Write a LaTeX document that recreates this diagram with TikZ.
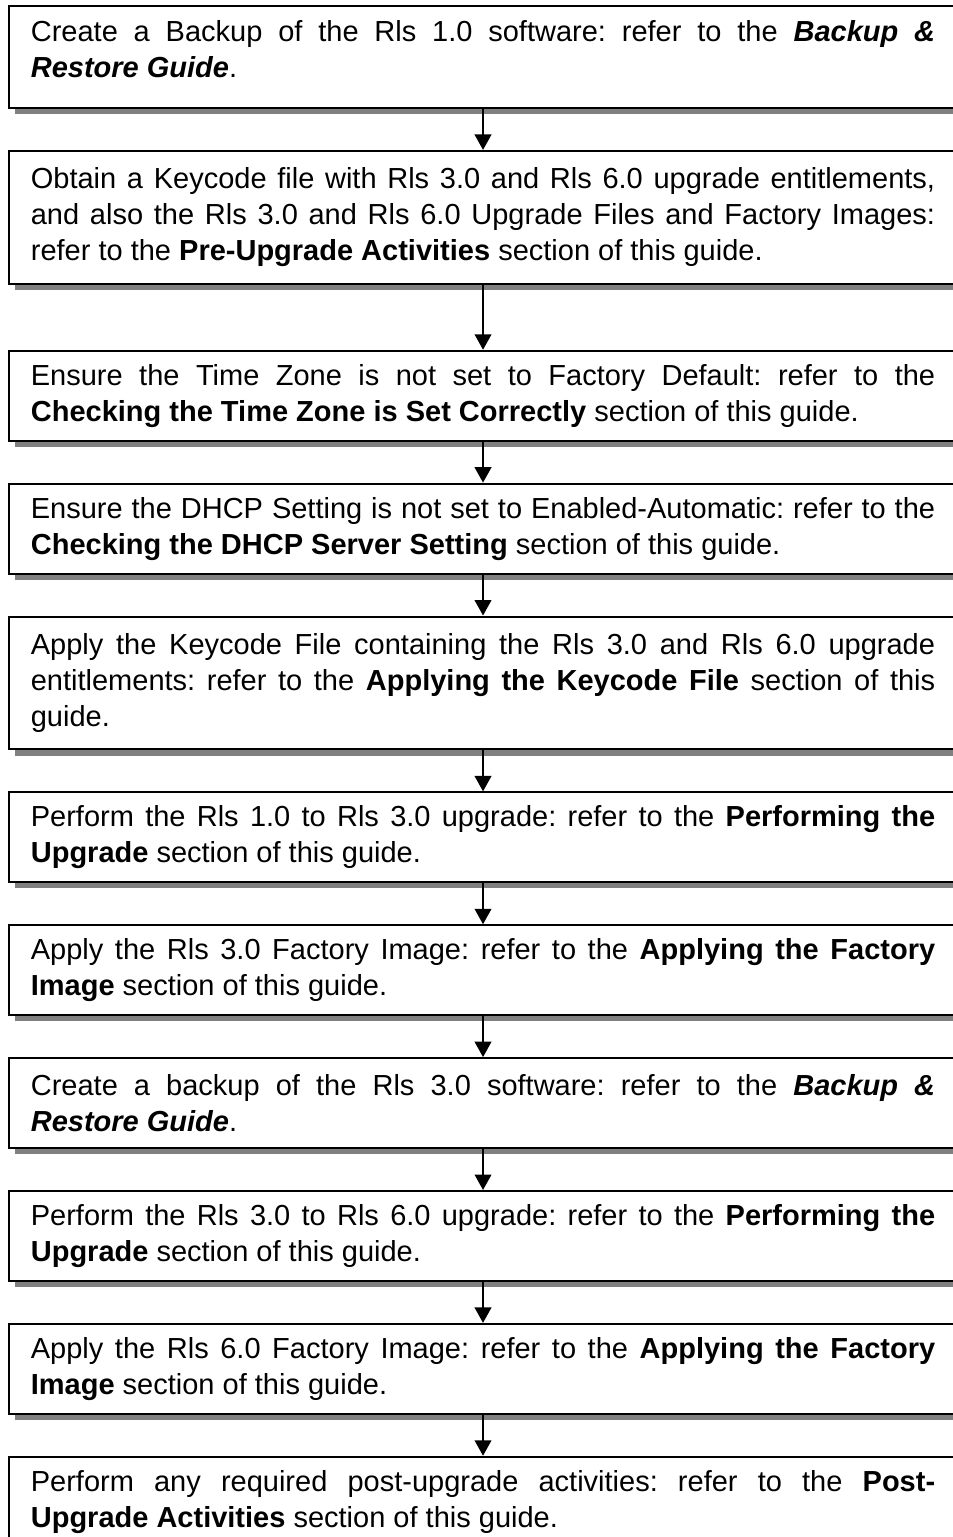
\documentclass[tikz,border=0pt]{standalone}
\usepackage{fontspec}
\setmainfont{Liberation Sans}
\usetikzlibrary{arrows.meta,positioning,shadows}
\hyphenpenalty=10000
\exhyphenpenalty=10000
\frenchspacing
\newcommand{\guide}[1]{\textbf{\textit{#1}}}

\begin{document}
\begin{tikzpicture}[
  x=0.3793pt, y=-0.3793pt,
  node distance=15.55pt,
  stepbox/.style={draw, line width=0.75pt, fill=white, text width=343pt,
    align=justify, inner xsep=8.3pt, inner ysep=0pt, minimum height=34.1pt,
    font=\fontsize{11}{13.65}\selectfont,
    drop shadow={shadow xshift=2.3pt, shadow yshift=-2.3pt, fill=black!50, opacity=1}},
  tallbox/.style={stepbox, minimum height=50.4pt},
  arrow/.style={-{Triangle[width=6.2pt, length=5.9pt]}, line width=1.1pt}
]
\useasboundingbox (0,0) rectangle (952,1537);

\node[stepbox, anchor=north west, minimum height=38.7pt] (backup1) at (8,5)
  {Create a Backup of the Rls 1.0 software: refer to the \guide{Backup \&}\linebreak
   \guide{Restore Guide}.\rule[-6pt]{0pt}{0pt}};
\node[tallbox, below=of backup1] (keycode)
  {Obtain a Keycode file with Rls 3.0 and Rls 6.0 upgrade entitlements,\linebreak
   and also the Rls 3.0 and Rls 6.0 Upgrade Files and Factory Images:\linebreak
   refer to the \textbf{Pre-Upgrade Activities} section of this guide.};
\node[stepbox, below=24.65pt of keycode] (timezone)
  {Ensure the Time Zone is not set to Factory Default: refer to the\linebreak
   \textbf{Checking the Time Zone is Set Correctly} section of this guide.};
\node[stepbox, below=of timezone] (dhcp)
  {Ensure the DHCP Setting is not set to Enabled-Automatic: refer to the\linebreak
   \textbf{Checking the DHCP Server Setting} section of this guide.};
\node[tallbox, below=of dhcp] (applykey)
  {Apply the Keycode File containing the Rls 3.0 and Rls 6.0 upgrade\linebreak
   entitlements: refer to the \textbf{Applying the Keycode File} section of this\linebreak
   guide.};
\node[stepbox, below=of applykey] (upgrade3)
  {Perform the Rls 1.0 to Rls 3.0 upgrade: refer to the \textbf{Performing the}\linebreak
   \textbf{Upgrade} section of this guide.};
\node[stepbox, below=of upgrade3] (image3)
  {Apply the Rls 3.0 Factory Image: refer to the \textbf{Applying the Factory}\linebreak
   \textbf{Image} section of this guide.};
\node[stepbox, below=of image3] (backup3)
  {Create a backup of the Rls 3.0 software: refer to the \guide{Backup \&}\linebreak
   \guide{Restore Guide}.};
\node[stepbox, below=of backup3] (upgrade6)
  {Perform the Rls 3.0 to Rls 6.0 upgrade: refer to the \textbf{Performing the}\linebreak
   \textbf{Upgrade} section of this guide.};
\node[stepbox, below=of upgrade6] (image6)
  {Apply the Rls 6.0 Factory Image: refer to the \textbf{Applying the Factory}\linebreak
   \textbf{Image} section of this guide.};
\node[stepbox, below=of image6] (postup)
  {Perform any required post-upgrade activities: refer to the \textbf{Post-}\linebreak
   \textbf{Upgrade Activities} section of this guide.};

\draw[arrow] (backup1) -- (keycode);
\draw[arrow] (keycode) -- (timezone);
\draw[arrow] (timezone) -- (dhcp);
\draw[arrow] (dhcp) -- (applykey);
\draw[arrow] (applykey) -- (upgrade3);
\draw[arrow] (upgrade3) -- (image3);
\draw[arrow] (image3) -- (backup3);
\draw[arrow] (backup3) -- (upgrade6);
\draw[arrow] (upgrade6) -- (image6);
\draw[arrow] (image6) -- (postup);
\end{tikzpicture}
\end{document}
